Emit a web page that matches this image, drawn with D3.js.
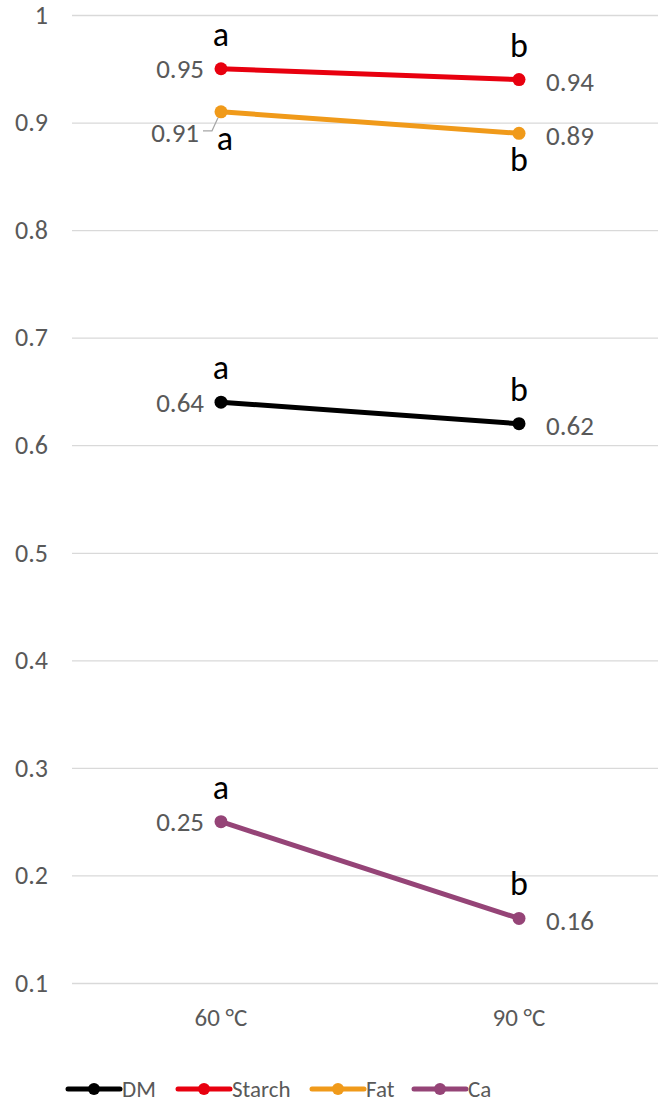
<!DOCTYPE html>
<html>
<head>
<meta charset="utf-8">
<script src="https://cdn.jsdelivr.net/npm/d3@7/dist/d3.min.js"></script>
<style>
  html, body { margin: 0; padding: 0; background: #fff; }
  svg { display: block; }
</style>
</head>
<body>
<div id="chart"></div>
<script>
// Temperatures on the category axis
const categories = ["60 °C", "90 °C"];

// Series names, colours and values (one value per temperature)
const seriesNames = ["DM", "Starch", "Fat", "Ca"];
const seriesColors = ["#000000", "#e8000f", "#f09a1a", "#954477"];
const dmValues = [0.64, 0.62];
const starchValues = [0.95, 0.94];
const fatValues = [0.91, 0.89];
const caValues = [0.25, 0.16];

// Significance letters per series
const dmLetters = ["a", "b"];
const starchLetters = ["a", "b"];
const fatLetters = ["a", "b"];
const caLetters = ["a", "b"];

// Y axis ticks
const yTicks = [0.1, 0.2, 0.3, 0.4, 0.5, 0.6, 0.7, 0.8, 0.9, 1];

const series = [
  { name: seriesNames[0], color: seriesColors[0], values: dmValues, letters: dmLetters, below: false },
  { name: seriesNames[1], color: seriesColors[1], values: starchValues, letters: starchLetters, below: false },
  { name: seriesNames[2], color: seriesColors[2], values: fatValues, letters: fatLetters, below: true },
  { name: seriesNames[3], color: seriesColors[3], values: caValues, letters: caLetters, below: false }
];

const W = 658, H = 1105;
const svg = d3.select("#chart").append("svg").attr("width", W).attr("height", H);

const y = d3.scaleLinear().domain([0.1, 1]).range([983, 15]);
const x = d3.scaleBand().domain(categories).range([72, 668]);
const cx = c => x(c) + x.bandwidth() / 2;

const font = "Calibri, Carlito, 'Open Sans', 'Noto Sans', sans-serif";
const grey = "#595959";

// Gridlines and tick labels
const yAxis = d3.axisLeft(y).tickValues(yTicks).tickSize(-(W - 72)).tickFormat(d3.format("~g"));
const gy = svg.append("g").attr("transform", "translate(72,0)").call(yAxis);
gy.select(".domain").remove();
gy.selectAll(".tick line").attr("stroke", "#d9d9d9").attr("stroke-width", 1.3);
gy.selectAll(".tick text").attr("fill", grey).attr("font-family", font).attr("font-size", 26).attr("x", -24);

// Category labels
const xAxis = d3.axisBottom(x).tickSize(0).tickPadding(25);
const gx = svg.append("g").attr("transform", "translate(0,983)").call(xAxis);
gx.select(".domain").remove();
gx.selectAll(".tick text").attr("fill", grey).attr("font-family", font).attr("font-size", 25);

// Lines and markers
const line = d3.line().x((d, i) => cx(categories[i])).y(d => y(d));
const gs = svg.append("g");
series.forEach(s => {
  gs.append("path").datum(s.values).attr("d", line)
    .attr("fill", "none").attr("stroke", s.color).attr("stroke-width", 5).attr("stroke-linecap", "round");
  gs.selectAll(null).data(s.values).enter().append("circle")
    .attr("cx", (d, i) => cx(categories[i])).attr("cy", d => y(d)).attr("r", 6.5).attr("fill", s.color);
});

// Value labels and significance letters
const gl = svg.append("g");
series.forEach(s => {
  s.values.forEach((v, i) => {
    const px = cx(categories[i]), py = y(v);
    let lx, ly;
    if (s.below && i === 0) {
      // label pulled down-left with a small leader line
      lx = px - 22; ly = py + 21;
      gl.append("path")
        .attr("d", `M${lx + 4},${ly - 2}H${px - 9}L${px - 3},${py + 6}`)
        .attr("fill", "none").attr("stroke", "#a6a6a6").attr("stroke-width", 1.2);
    } else {
      lx = i === 0 ? px - 17 : px + 27;
      ly = py + (i === 0 ? 0 : 2);
    }
    gl.append("text").attr("x", lx).attr("y", ly).attr("dy", "0.35em")
      .attr("text-anchor", i === 0 ? "end" : "start")
      .attr("fill", grey).attr("font-family", font).attr("font-size", 27)
      .text(d3.format(".2f")(v));
    const letterY = s.below ? py + 38 : py - 23;
    gl.append("text").attr("x", px + (s.below && i === 0 ? 4 : 0)).attr("y", letterY)
      .attr("text-anchor", "middle").attr("fill", "#000")
      .attr("font-family", font).attr("font-size", 34)
      .text(s.letters[i]);
  });
});

// Legend
const legendX = [68, 178, 312, 414];
const lg = svg.append("g").attr("transform", "translate(0,1089)");
series.forEach((s, i) => {
  const g = lg.append("g").attr("transform", `translate(${legendX[i]},0)`);
  g.append("line").attr("x1", 0).attr("x2", 52).attr("stroke", s.color).attr("stroke-width", 5).attr("stroke-linecap", "round");
  g.append("circle").attr("cx", 26).attr("r", 6).attr("fill", s.color);
  g.append("text").attr("x", 54).attr("dy", "0.35em").attr("fill", grey)
    .attr("font-family", font).attr("font-size", 23).text(s.name);
});
</script>
</body>
</html>
